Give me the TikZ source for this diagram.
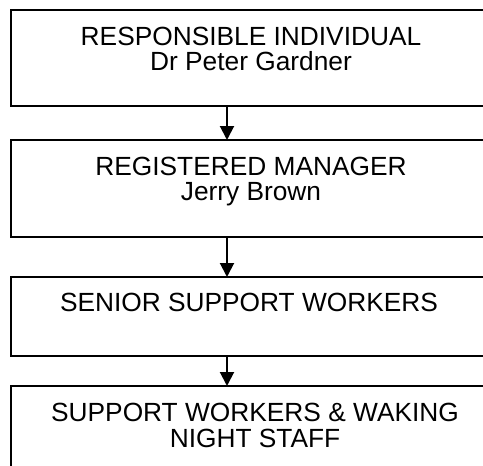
\documentclass[tikz,border=0pt]{standalone}
\usepackage{fontspec}
\setmainfont{Liberation Sans}
\usetikzlibrary{arrows.meta}
\begin{document}
\begin{tikzpicture}[x=1pt,y=-1pt,
  box/.style={draw=black,line width=1.8pt},
  lbl/.style={anchor=base,font=\fontsize{26.3}{29}\selectfont,inner sep=0pt},
  conn/.style={line width=2pt,-{Triangle[length=14pt,width=14pt]},shorten >=0pt}]
\useasboundingbox (0,0) rectangle (483,466);
\begin{scope}
\clip (0,0) rectangle (483,466);
\draw[box] (11,10) rectangle (491,106);
\draw[box] (11,140) rectangle (491,237);
\draw[box] (11,277) rectangle (491,356);
\draw[box] (11,386) rectangle (491,500);
\end{scope}
\coordinate (b1) at (227,106);
\coordinate (t2) at (227,140);
\coordinate (b2) at (227,237);
\coordinate (t3) at (227,277);
\coordinate (b3) at (227,356);
\coordinate (t4) at (227,386);
\node[lbl] (n1a) at (251,45) {RESPONSIBLE INDIVIDUAL};
\node[lbl] (n1b) at (251,70) {Dr Peter Gardner};
\node[lbl] (n2a) at (251,175) {REGISTERED MANAGER};
\node[lbl] (n2b) at (251,200) {Jerry Brown};
\node[lbl] (n3) at (249,311) {SENIOR SUPPORT WORKERS};
\node[lbl] (n4a) at (255,421) {SUPPORT WORKERS \& WAKING};
\node[lbl] (n4b) at (255,447) {NIGHT STAFF};
\draw[conn] (b1) -- (t2);
\draw[conn] (b2) -- (t3);
\draw[conn] (b3) -- (t4);
\end{tikzpicture}
\end{document}
